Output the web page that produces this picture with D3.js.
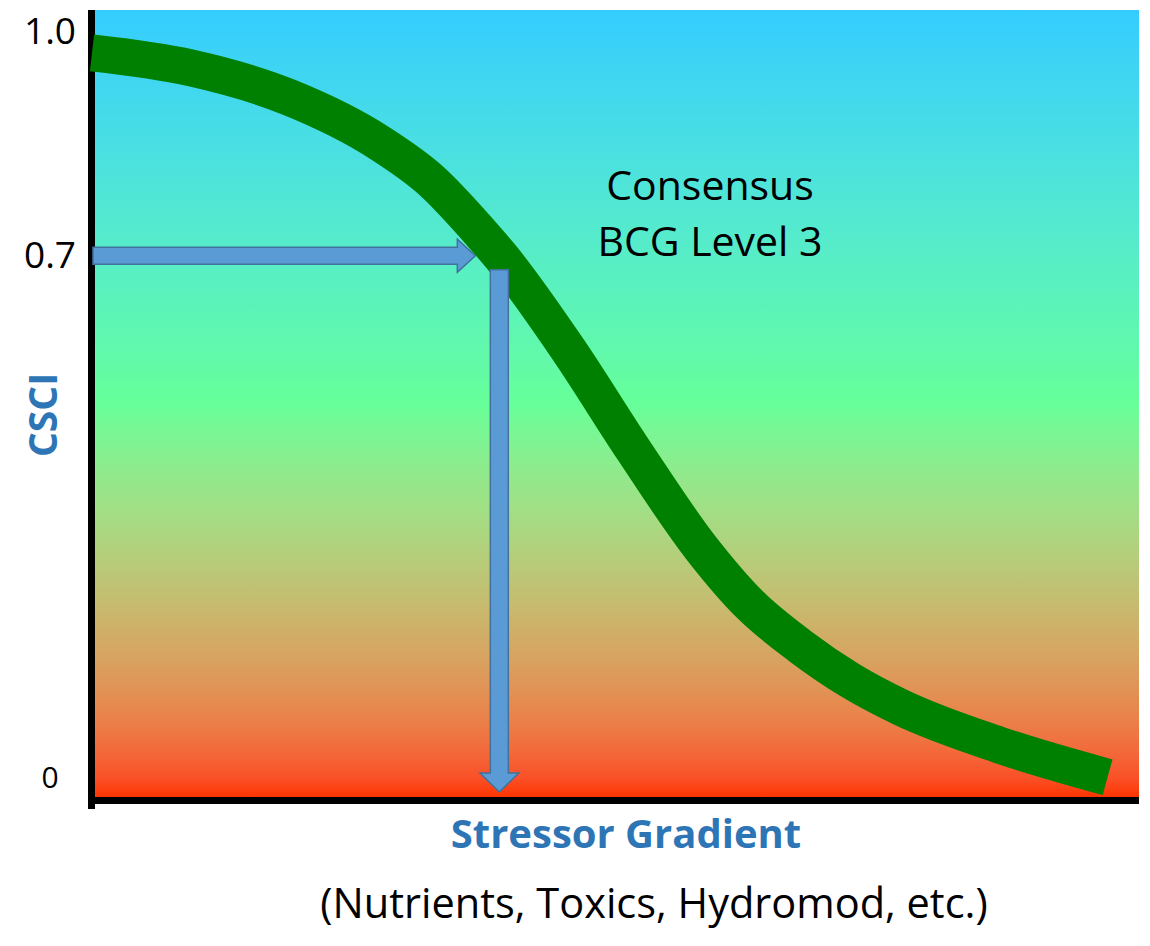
<!DOCTYPE html>
<html>
<head>
<meta charset="utf-8">
<script src="https://cdn.jsdelivr.net/npm/d3@7"></script>
<style>
  body { margin: 0; background: #ffffff; }
  svg { display: block; }
  text { font-family: "Open Sans", "Noto Sans", sans-serif; }
</style>
</head>
<body>
<svg id="chart" width="1150" height="946"></svg>
<script>
// Response curve: CSCI score along a generic stressor gradient (arbitrary units 0–10)
const stress = [0, 0.94, 1.89, 2.75, 3.23, 3.71, 3.90, 4.55, 5.17, 5.83, 6.28, 6.76, 7.24, 7.72, 8.67, 9.70];
const csci   = [0.972, 0.952, 0.912, 0.851, 0.802, 0.731, 0.70, 0.574, 0.440, 0.306, 0.233, 0.177, 0.131, 0.095, 0.044, 0.001];

// Threshold read across to the curve and down to the stressor axis
const threshold = 0.7;
const thresholdStress = 3.90;

// Y axis ticks
const yTickValues = [0, 0.7, 1.0];
const yTickLabels = ["0", "0.7", "1.0"];

// Background gradient colours, top → middle → bottom
const gradientColors = ["#33ccff", "#66ff99", "#ff3300"];

const svg = d3.select("#chart");

const plot = { left: 95, right: 1139, top: 10, bottom: 798 };
const x = d3.scaleLinear().domain([0, 10]).range([92, 1139]);
const y = d3.scaleLinear().domain([0, 1]).range([778, 32]);

// Vertical gradient, interpolated in linear light between the three colours
const defs = svg.append("defs");
const grad = defs.append("linearGradient")
  .attr("id", "bg").attr("x1", 0).attr("y1", 0).attr("x2", 0).attr("y2", 1);
const upper = d3.interpolateRgb.gamma(2.2)(gradientColors[0], gradientColors[1]);
const lower = d3.interpolateRgb.gamma(2.2)(gradientColors[1], gradientColors[2]);
d3.range(0, 41).forEach(i => {
  const t = i / 40;
  grad.append("stop")
    .attr("offset", t)
    .attr("stop-color", t <= 0.5 ? upper(t * 2) : lower((t - 0.5) * 2));
});

svg.append("rect")
  .attr("x", plot.left).attr("y", plot.top)
  .attr("width", plot.right - plot.left).attr("height", plot.bottom - plot.top)
  .attr("fill", "url(#bg)");

// Axis lines
svg.append("rect").attr("x", 88).attr("y", plot.top).attr("width", 7).attr("height", 809 - plot.top).attr("fill", "#000");
svg.append("rect").attr("x", 88).attr("y", 797).attr("width", plot.right - 88).attr("height", 7).attr("fill", "#000");

// Y tick labels via a D3 axis (no ticks, no domain line)
const yAxis = d3.axisLeft(y)
  .tickValues(yTickValues)
  .tickSize(0)
  .tickFormat((d, i) => yTickLabels[i]);
const gy = svg.append("g").attr("transform", "translate(92,0)").call(yAxis);
gy.select(".domain").remove();
gy.selectAll(".tick text")
  .attr("x", -42)
  .attr("text-anchor", "middle")
  .attr("fill", "#000")
  .style("font-family", "'Open Sans', sans-serif")
  .style("font-size", d => d === 0 ? "30px" : "37px");

// Response curve (y as a smooth function of x)
const line = d3.line()
  .x(d => x(d[0]))
  .y(d => y(d[1]))
  .curve(d3.curveMonotoneX);
svg.append("path")
  .datum(d3.zip(stress, csci))
  .attr("d", line)
  .attr("fill", "none")
  .attr("stroke", "#008000")
  .attr("stroke-width", 37)
  .attr("stroke-linecap", "butt")
  .attr("stroke-linejoin", "round");

// Block arrows
const arrowFill = "#5b9bd5", arrowStroke = "#41719c";

function hArrow(x0, x1, cy, shaftH, headH, headL) {
  const p = d3.path();
  p.moveTo(x0, cy - shaftH / 2);
  p.lineTo(x1 - headL, cy - shaftH / 2);
  p.lineTo(x1 - headL, cy - headH / 2);
  p.lineTo(x1, cy);
  p.lineTo(x1 - headL, cy + headH / 2);
  p.lineTo(x1 - headL, cy + shaftH / 2);
  p.lineTo(x0, cy + shaftH / 2);
  p.closePath();
  return p.toString();
}
function vArrow(y0, y1, cx, shaftW, headW, headL) {
  const p = d3.path();
  p.moveTo(cx - shaftW / 2, y0);
  p.lineTo(cx + shaftW / 2, y0);
  p.lineTo(cx + shaftW / 2, y1 - headL);
  p.lineTo(cx + headW / 2, y1 - headL);
  p.lineTo(cx, y1);
  p.lineTo(cx - headW / 2, y1 - headL);
  p.lineTo(cx - shaftW / 2, y1 - headL);
  p.closePath();
  return p.toString();
}

svg.append("path")
  .attr("d", hArrow(93, x(thresholdStress) - 25, y(threshold), 17, 33, 18))
  .attr("fill", arrowFill).attr("stroke", arrowStroke).attr("stroke-width", 1.5);
svg.append("path")
  .attr("d", vArrow(y(threshold) + 14, y(0) + 14, x(thresholdStress) - 1, 18, 39, 19))
  .attr("fill", arrowFill).attr("stroke", arrowStroke).attr("stroke-width", 1.5);

// Annotation
const note = svg.append("text")
  .attr("text-anchor", "middle")
  .attr("fill", "#000")
  .style("font-size", "41px");
note.append("tspan").attr("x", 710).attr("y", 200).text("Consensus");
note.append("tspan").attr("x", 710).attr("y", 256).text("BCG Level 3");

// Axis titles
svg.append("text")
  .attr("x", 626).attr("y", 848)
  .attr("text-anchor", "middle")
  .attr("fill", "#2e75b6")
  .style("font-size", "40px").style("font-weight", "bold")
  .text("Stressor Gradient");

svg.append("text")
  .attr("x", 654).attr("y", 918)
  .attr("text-anchor", "middle")
  .attr("fill", "#000")
  .style("font-size", "41.5px")
  .text("(Nutrients, Toxics, Hydromod, etc.)");

svg.append("text")
  .attr("transform", "translate(57,415) rotate(-90)")
  .attr("text-anchor", "middle")
  .attr("fill", "#2e75b6")
  .style("font-size", "39px").style("font-weight", "bold")
  .text("CSCI");
</script>
</body>
</html>
